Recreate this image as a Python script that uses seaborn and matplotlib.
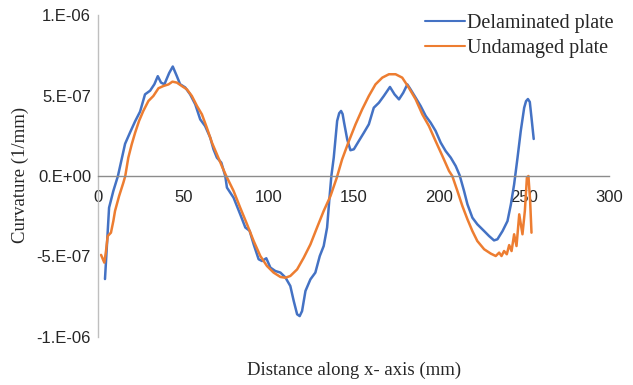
import numpy as np
import pandas as pd
import matplotlib
matplotlib.use("Agg")
import matplotlib.pyplot as plt
import seaborn as sns

# Data (curvature values in units of 1e-7 1/mm)
delam_x = [4.1, 6.5, 9.0, 11.7, 15.9, 18.8, 21.8, 24.7, 27.6, 30.6, 33.1, 35.1, 37.0, 39.0,
           41.8, 43.9, 46.3, 48.2, 51.2, 54.1, 57.1, 60.0, 62.9, 65.9, 67.8, 69.8, 72.4, 74.7,
           75.7, 79.6, 83.5, 86.5, 89.0, 91.4, 94.3, 96.3, 98.8, 101.2, 104.1, 107.1, 110.0,
           112.9, 114.9, 116.9, 118.4, 119.8, 121.8, 124.7, 127.6, 130.2, 132.5, 134.5, 135.9,
           137.0, 138.4, 140.4, 141.6, 142.7, 143.6, 144.5, 146.3, 148.2, 150.2, 153.1, 156.1,
           159.0, 161.9, 164.9, 167.8, 171.4, 174.1, 176.7, 179.2, 181.6, 183.5, 186.5, 189.4,
           192.4, 195.3, 198.2, 201.2, 204.1, 207.1, 210.0, 212.3, 214.9, 216.9, 219.8, 222.7,
           226.7, 229.6, 232.5, 234.5, 237.5, 240.4, 242.4, 244.3, 246.3, 248.2, 250.2, 251.3,
           252.4, 253.5, 254.5, 255.8]
delam_y = [-6.4, -1.97, -0.93, 0.0, 2.0, 2.7, 3.4, 4.0, 5.07, 5.3, 5.7, 6.2, 5.8, 5.7,
           6.4, 6.8, 6.2, 5.7, 5.5, 5.07, 4.45, 3.52, 3.1, 2.38, 1.66, 1.14, 0.83, 0.0,
           -0.72, -1.35, -2.38, -3.2, -3.4, -4.25, -5.17, -5.28, -5.11, -5.69, -5.9, -6.0, -6.3,
           -6.83, -7.76, -8.59, -8.7, -8.39, -7.14, -6.42, -6.0, -4.97, -4.35, -3.2, -1.35,
           0.0, 1.14, 3.42, 3.9, 4.04, 3.85, 3.3, 2.28, 1.6, 1.66, 2.17, 2.69,
           3.21, 4.24, 4.55, 4.97, 5.53, 5.07, 4.76, 5.17, 5.69, 5.38, 4.86, 4.35,
           3.73, 3.31, 2.8, 2.07, 1.55, 1.14, 0.62, 0.05, -0.93, -1.76, -2.59, -3.0,
           -3.42, -3.73, -4.0, -3.93, -3.42, -2.8, -1.76, -0.52, 1.14, 2.8, 4.24, 4.65,
           4.78, 4.6, 3.62, 2.3]

undam_x = [1.8, 3.7, 4.7, 5.7, 7.6, 9.0, 10.0, 12.4, 14.9, 16.0, 17.8, 19.8, 21.8, 24.1,
           26.6, 29.6, 32.5, 35.5, 38.4, 41.4, 43.7, 46.3, 49.2, 52.2, 55.1, 58.1, 61.0, 63.9,
           66.9, 69.8, 72.7, 75.3, 79.6, 83.5, 87.5, 91.4, 95.3, 99.2, 103.1, 107.1, 110.0,
           112.9, 116.9, 120.8, 124.7, 128.6, 132.5, 136.5, 140.2, 143.3, 147.3, 151.2, 155.1,
           159.0, 162.9, 166.9, 170.8, 174.7, 178.6, 182.5, 186.5, 190.4, 194.3, 198.2, 202.2,
           206.1, 208.0, 211.0, 213.9, 216.9, 219.8, 222.7, 226.7, 230.6, 233.5, 235.5, 236.9,
           238.4, 240.0, 241.4, 242.8, 244.3, 245.7, 247.3, 249.2, 250.6, 251.8, 252.7, 253.7,
           254.5]
undam_y = [-4.9, -5.38, -4.66, -3.73, -3.52, -2.8, -2.17, -1.24, -0.41, 0.0, 1.14, 1.97, 2.69, 3.42,
           4.04, 4.66, 4.97, 5.45, 5.59, 5.69, 5.86, 5.8, 5.59, 5.38, 4.97, 4.35, 3.83, 3.0,
           2.07, 1.35, 0.62, 0.0, -0.93, -1.97, -3.0, -4.04, -4.97, -5.59, -6.0, -6.27, -6.32,
           -6.21, -5.8, -5.07, -4.25, -3.2, -2.17, -1.24, -0.1, 1.03, 2.17, 3.21, 4.14,
           4.97, 5.69, 6.11, 6.32, 6.32, 6.11, 5.48, 4.76, 3.83, 3.1, 2.17, 1.24,
           0.31, 0.0, -0.93, -1.86, -2.69, -3.42, -4.04, -4.55, -4.82, -4.97, -4.76, -4.97,
           -4.66, -4.86, -4.29, -4.66, -3.62, -4.35, -2.38, -3.62, -2.17, -0.1, 0.0, -1.55,
           -3.52]

series_names = ["Delaminated plate", "Undamaged plate"]
x_ticks = [0, 50, 100, 150, 200, 250, 300]
y_ticks = [-1e-6, -5e-7, 0.0, 5e-7, 1e-6]
y_tick_labels = ["-1.E-06", "-5.E-07", "0.E+00", "5.E-07", "1.E-06"]

df = pd.concat([
    pd.DataFrame({"x": delam_x, "y": np.array(delam_y) * 1e-7, "series": series_names[0]}),
    pd.DataFrame({"x": undam_x, "y": np.array(undam_y) * 1e-7, "series": series_names[1]}),
], ignore_index=True)

sns.set_style("white")
plt.rcParams["font.family"] = ["Liberation Sans", "DejaVu Sans"]

W, H = 633, 385
fig = plt.figure(figsize=(W / 100, H / 100), dpi=100)
left, right, top, bottom = 98, 609, 15, 337
ax = fig.add_axes([left / W, 1 - bottom / H, (right - left) / W, (bottom - top) / H])

sns.lineplot(data=df, x="x", y="y", hue="series", hue_order=series_names,
             palette=["#4472C4", "#ED7D31"], linewidth=1.8, estimator=None,
             sort=False, legend=False, ax=ax)
for ln in ax.lines:
    ln.set_solid_joinstyle("round")
    ln.set_solid_capstyle("round")

ax.set_xlim(0, 300)
ax.set_ylim(-1e-6, 1e-6)
ax.set_xticks(x_ticks)
ax.set_xticklabels([str(t) for t in x_ticks])
ax.set_yticks(y_ticks)
ax.set_yticklabels(y_tick_labels)
ax.tick_params(axis="both", length=0, labelsize=12, colors="#262626")
ax.tick_params(axis="x", pad=10)
ax.tick_params(axis="y", pad=5)
ax.set_xlabel("")
ax.set_ylabel("")

for s in ["top", "right"]:
    ax.spines[s].set_visible(False)
ax.spines["bottom"].set_position(("data", 0))
ax.spines["bottom"].set_color("#8c8c8c")
ax.spines["bottom"].set_linewidth(1.0)
ax.spines["left"].set_color("#bfbfbf")
ax.spines["left"].set_linewidth(1.0)
ax.grid(False)

serif = ["Liberation Serif", "DejaVu Serif"]
fig.text(354 / W, 1 - 370 / H, "Distance along x- axis (mm)", ha="center", va="center",
         fontsize=13.5, family=serif, color="#262626")
fig.text(20 / W, 1 - 175 / H, "Curvature (1/mm)", ha="center", va="center", rotation=90,
         fontsize=13.5, family=serif, color="#262626")

leg = ax.legend(ax.lines[:2], series_names, loc="upper left",
                bbox_to_anchor=(425 / W, 1 - 14 / H), bbox_transform=fig.transFigure,
                frameon=False, borderpad=0, borderaxespad=0, handlelength=2.0,
                handletextpad=0.1, labelspacing=0.3,
                prop={"family": serif, "size": 14.5})
for line in leg.get_lines():
    line.set_linewidth(1.5)
for t in leg.get_texts():
    t.set_color("#262626")

fig.savefig("out.png", dpi=100)
